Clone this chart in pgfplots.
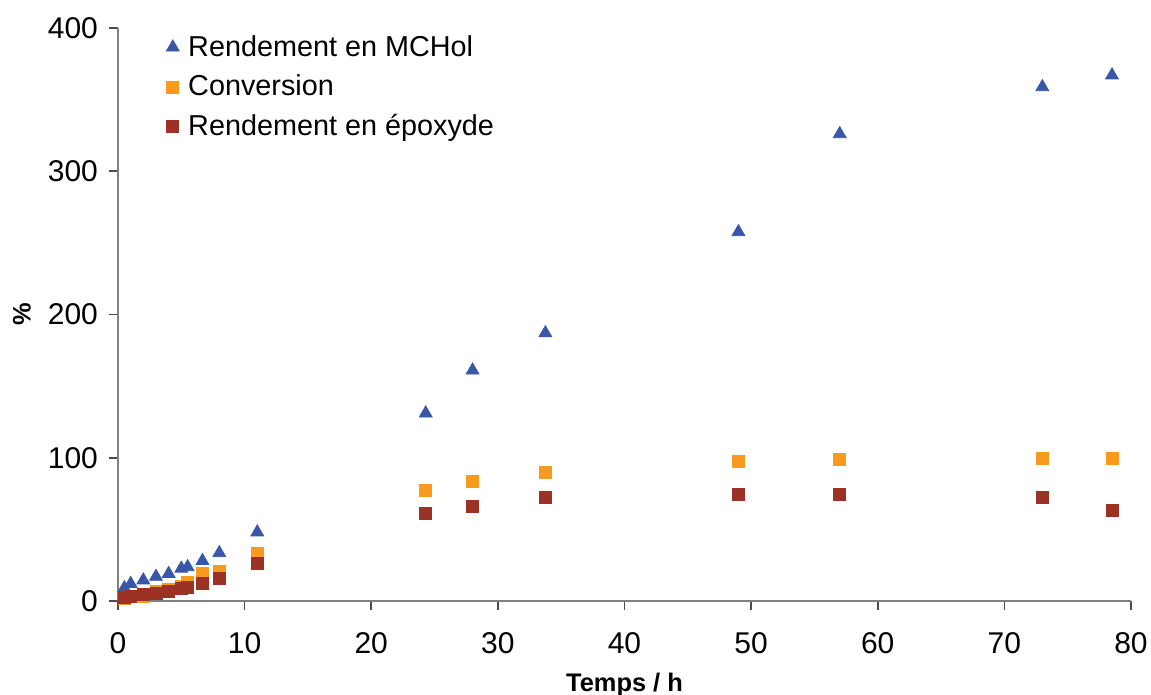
\documentclass[border=0pt]{standalone}
\usepackage{fontspec}
\setmainfont{Liberation Sans}
\usepackage{pgfplots}
\pgfplotsset{compat=1.18}
\definecolor{cblue}{RGB}{56,87,168}
\definecolor{corange}{RGB}{247,154,30}
\definecolor{cbrown}{RGB}{155,50,35}
\definecolor{axgray}{RGB}{128,128,128}
\begin{document}
\begin{tikzpicture}
\path[use as bounding box] (-59pt,-47pt) rectangle (516.5pt,300.5pt);
\begin{axis}[
  at={(0,0)}, anchor=south west,
  scale only axis, width=506.5pt, height=286.5pt,
  xmin=0, xmax=80, ymin=0, ymax=400,
  xtick={0,10,...,80}, ytick={0,100,...,400},
  axis x line*=bottom, axis y line*=left,
  axis line style={axgray, line width=0.8pt, -},
  tick align=outside, major tick length=4.5pt,
  tick style={black!70, line width=0.8pt},
  ticklabel style={font=\fontsize{15}{18}\selectfont},
  /pgf/number format/assume math mode=true,
  xticklabel style={yshift=-7.5pt},
  yticklabel style={xshift=-2pt},
  xlabel={\textbf{Temps / h}}, ylabel={\textbf{\%}},
  label style={font=\fontsize{12.7}{15}\selectfont},
  xlabel style={at={(axis description cs:0.5,0)}, anchor=center, yshift=-42pt},
  ylabel style={at={(axis description cs:0,0.5)}, anchor=center, yshift=48pt},
  legend style={draw=none, fill=none, at={(axis description cs:0,1)}, anchor=north west,
    xshift=21pt, yshift=0.5pt, font=\fontsize{14.4}{17}\selectfont, row sep=3.9pt,
    /tikz/every odd column/.append style={column sep=2.5pt}},
  legend cell align=left,
  clip=false,
]
\addplot[only marks, mark=triangle*, mark size=3.7pt, color=cblue] coordinates {
(0.5,9) (1,12) (2,14.5) (3,17) (4,19) (5,22.7) (5.5,23.7) (6.67,28) (8,33.5) (11,48)
(24.3,131) (28,161) (33.75,187) (49,257.6) (57,326) (73,358.8) (78.5,367)
};
\addlegendentry{Rendement en MCHol}
\addplot[only marks, mark=square*, mark size=3pt, color=corange] coordinates {
(0.5,2) (1,3) (2,3.5) (3,6.5) (4,8) (5,10) (5.5,13) (6.67,19) (8,20.7) (11,33.5)
(24.3,77.5) (28,83.8) (33.75,90) (49,97.7) (57,99) (73,99.8) (78.5,99.8)
};
\addlegendentry{Conversion}
\addplot[only marks, mark=square*, mark size=3pt, color=cbrown] coordinates {
(0.5,2.5) (1,3) (2,4.5) (3,5.5) (4,7) (5,8.5) (5.5,9.5) (6.67,12) (8,16) (11,26)
(24.3,61.4) (28,66.3) (33.75,72) (49,74.7) (57,74.7) (73,72.6) (78.5,63.5)
};
\addlegendentry{Rendement en époxyde}
\end{axis}
\end{tikzpicture}
\end{document}
